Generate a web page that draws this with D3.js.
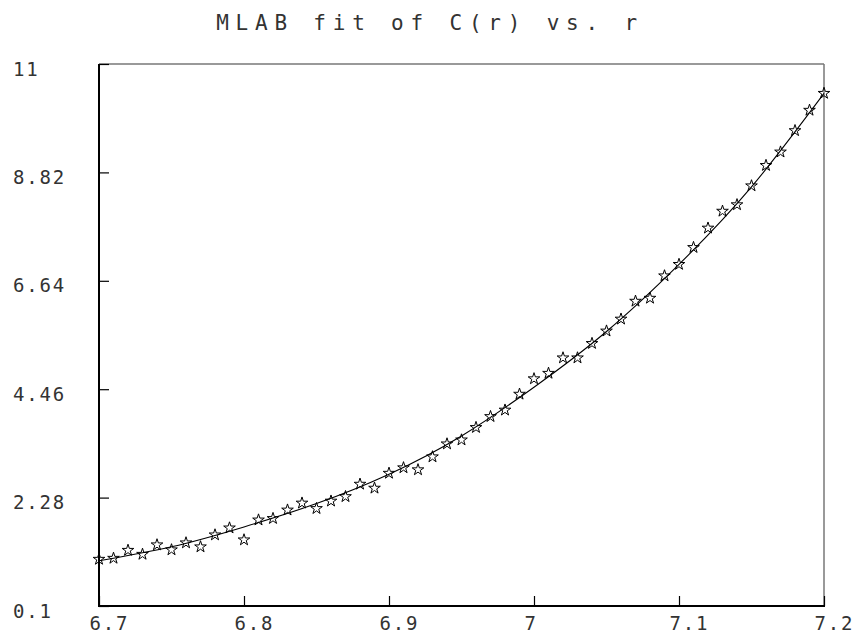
<!DOCTYPE html>
<html>
<head>
<meta charset="utf-8">
<script src="https://cdn.jsdelivr.net/npm/d3@7"></script>
<style>
    body { margin: 0; background: #fff; }
    text { font-family: "DejaVu Sans Mono", monospace; fill: #333; }
</style>
</head>
<body>
<svg width="856" height="636"></svg>
<script>
// Data
let rValues = [6.70, 6.71, 6.72, 6.73, 6.74, 6.75, 6.76, 6.77, 6.78, 6.79,
    6.80, 6.81, 6.82, 6.83, 6.84, 6.85, 6.86, 6.87, 6.88, 6.89,
    6.90, 6.91, 6.92, 6.93, 6.94, 6.95, 6.96, 6.97, 6.98, 6.99,
    7.00, 7.01, 7.02, 7.03, 7.04, 7.05, 7.06, 7.07, 7.08, 7.09,
    7.10, 7.11, 7.12, 7.13, 7.14, 7.15, 7.16, 7.17, 7.18, 7.19, 7.20];
let cValues = [1.04, 1.06, 1.22, 1.14, 1.33, 1.23, 1.37, 1.29, 1.53, 1.67,
    1.43, 1.83, 1.86, 2.03, 2.17, 2.06, 2.21, 2.30, 2.55, 2.47,
    2.77, 2.88, 2.84, 3.10, 3.36, 3.44, 3.69, 3.91, 4.04, 4.36,
    4.67, 4.78, 5.09, 5.09, 5.38, 5.63, 5.87, 6.23, 6.29, 6.74,
    6.97, 7.31, 7.70, 8.04, 8.17, 8.55, 8.96, 9.23, 9.66, 10.07, 10.41];
// Fitted curve
let fitR = [6.70, 6.75, 6.80, 6.85, 6.90, 6.95, 7.00, 7.05, 7.10, 7.15, 7.20];
let fitC = [1.01, 1.29, 1.69, 2.16, 2.75, 3.52, 4.50, 5.62, 6.97, 8.53, 10.41];
let xTicks = [6.7, 6.8, 6.9, 7.0, 7.1, 7.2];
let yTicks = [0.1, 2.28, 4.46, 6.64, 8.82, 11];
let title = "MLAB fit of C(r) vs. r";

let svg = d3.select("svg");
let plotLeft = 99, plotRight = 824, plotTop = 64, plotBottom = 606;

let x = d3.scaleLinear().domain([6.7, 7.2]).range([plotLeft, plotRight]);
let y = d3.scaleLinear().domain([0.1, 11]).range([plotBottom, plotTop]);

// Title
svg.append("text")
    .attr("x", 430)
    .attr("y", 30)
    .attr("text-anchor", "middle")
    .attr("font-size", 21)
    .attr("letter-spacing", 6.8)
    .text(title);

// Frame: left/bottom black, top/right grey
svg.append("line").attr("x1", plotLeft).attr("x2", plotRight).attr("y1", plotTop).attr("y2", plotTop)
    .attr("stroke", "#777").attr("stroke-width", 1.5);
svg.append("line").attr("x1", plotRight).attr("x2", plotRight).attr("y1", plotTop).attr("y2", plotBottom)
    .attr("stroke", "#777").attr("stroke-width", 1.5);

// Axes with inward ticks
let xAxis = svg.append("g")
    .attr("transform", `translate(0,${plotBottom})`)
    .call(d3.axisBottom(x).tickValues(xTicks).tickSizeInner(-10).tickSizeOuter(0).tickFormat(d => String(+d.toFixed(1))));
let yAxis = svg.append("g")
    .attr("transform", `translate(${plotLeft},0)`)
    .call(d3.axisLeft(y).tickValues(yTicks).tickSizeInner(-10).tickSizeOuter(0).tickFormat(d => String(d)));

[xAxis, yAxis].forEach(g => {
    g.select(".domain").remove();
    g.selectAll(".tick line").attr("stroke", "#000").attr("stroke-width", 1.2);
    g.selectAll(".tick text")
        .attr("font-size", 19)
        .attr("letter-spacing", 1.8)
        .attr("fill", "#333")
        .attr("text-anchor", "start")
        .attr("dy", null);
});
xAxis.selectAll(".tick text").attr("x", -10).attr("y", 24);
yAxis.selectAll(".tick text").attr("x", 13 - plotLeft).attr("y", 11);

svg.append("line").attr("x1", plotLeft).attr("x2", plotLeft).attr("y1", plotTop).attr("y2", plotBottom + 1)
    .attr("stroke", "#000").attr("stroke-width", 2);
svg.append("line").attr("x1", plotLeft - 1).attr("x2", plotRight + 1).attr("y1", plotBottom).attr("y2", plotBottom)
    .attr("stroke", "#000").attr("stroke-width", 2);

// Fit curve
let fitData = fitR.map((r, i) => [r, fitC[i]]);
svg.append("path")
    .datum(fitData)
    .attr("fill", "none")
    .attr("stroke", "#000")
    .attr("stroke-width", 1.1)
    .attr("d", d3.line().x(d => x(d[0])).y(d => y(d[1])).curve(d3.curveNatural));

// Star markers
let star = d3.symbol().type(d3.symbolStar).size(42);
svg.append("g").selectAll("path")
    .data(rValues.map((r, i) => [r, cValues[i]]))
    .join("path")
    .attr("transform", d => `translate(${x(d[0])},${y(d[1])})`)
    .attr("d", star)
    .attr("fill", "none")
    .attr("stroke", "#000")
    .attr("stroke-width", 1);
</script>
</body>
</html>
